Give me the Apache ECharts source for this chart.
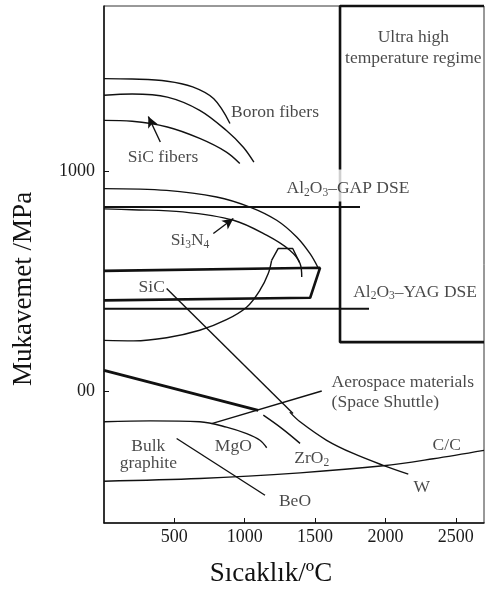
<!DOCTYPE html>
<html>
<head>
<meta charset="utf-8">
<script src="https://cdn.jsdelivr.net/npm/echarts@6/dist/echarts.min.js"></script>
<style>
  html, body { margin: 0; padding: 0; background: #fff; }
  #chart { width: 485px; height: 592px; }
</style>
</head>
<body>
<div id="chart"></div>
<script>
// axis ranges and ticks
var xMin = 0, xMax = 2700;
var yMin = 200, yMax = 1375;
var xTicks = [500, 1000, 1500, 2000, 2500];
var yTicks = [500, 1000];
var yTickText = { 500: '00', 1000: '1000' };

// curves [temperature, strength]
var boronOuter = [[0, 1210], [200, 1209], [450, 1204], [630, 1191], [780, 1164], [895, 1108]];
var boronInner = [[0, 1172], [200, 1175], [450, 1168], [680, 1138], [870, 1092], [990, 1054], [1065, 1020]];
var sicFiber = [[0, 1115], [200, 1113], [450, 1100], [680, 1074], [870, 1043], [965, 1017]];
var sicFiberArrow = [[400, 1066], [315, 1124]];
var si3n4Outer = [[0, 960], [445, 956], [800, 941], [1037, 918], [1227, 888], [1369, 850], [1464, 812], [1523, 779]];
var si3n4Inner = [[0, 914], [200, 912], [560, 907], [920, 888], [1155, 854], [1320, 820], [1393, 790], [1405, 759]];
var si3n4Arrow = [[777, 858], [919, 892]];
var sicBand = [[0, 773], [1535, 780], [1465, 712], [0, 706]];
var sicLoop = [[0, 615], [210, 614], [445, 621], [680, 638], [870, 662], [1015, 691], [1108, 729], [1167, 767], [1191, 797]];
var sicHat = [[1191, 797], [1238, 824], [1341, 824], [1388, 793]];
var gapLine = [[0, 918], [1819, 918]];
var yagLine = [[0, 687], [1883, 687]];
var ultraBox = [[2700, 1375], [1677, 1375], [1677, 611], [2700, 611]];
var sicPointer = [[445, 733], [1343, 449]];
var wCurve = [[1320, 452], [1393, 430], [1582, 388], [1771, 358], [1984, 331], [2162, 311]];
var aeroThick = [[0, 547], [1096, 456]];
var aeroPointer = [[765, 426], [1547, 500]];
var zro2 = [[1132, 445], [1263, 415], [1393, 381]];
var mgo = [[0, 430], [330, 432], [680, 430], [870, 418], [1014, 403], [1108, 388], [1156, 371]];
var beo = [[516, 392], [1144, 263]];
var cc = [[0, 295], [680, 301], [1393, 314], [1984, 330], [2340, 346], [2700, 365]];

// labels: text, x, y, align
var labels = [
  ['Boron fibers', 1215, 1134, 'center'],
  ['SiC fibers', 419, 1031, 'center'],
  ['Ultra high\ntemperature regime', 2198, 1280, 'center'],
  ['Si{s|3}N{s|4}', 611, 842, 'center'],
  ['SiC', 339, 736, 'center'],
  ['Al{s|2}O{s|3}–YAG DSE', 2210, 725, 'center'],
  ['Aerospace materials', 1617, 519, 'left'],
  ['(Space Shuttle)', 1617, 475, 'left'],
  ['MgO', 919, 373, 'center'],
  ['ZrO{s|2}', 1476, 346, 'center'],
  ['Bulk', 315, 374, 'center'],
  ['graphite', 315, 336, 'center'],
  ['BeO', 1357, 248, 'center'],
  ['C/C', 2435, 377, 'center'],
  ['W', 2257, 282, 'center']
];
var gapLabel = ['Al{s|2}O{s|3}–GAP DSE', 1733, 967];

var ink = '#111';
var textColor = '#1a1a1a';
var serif = '"Liberation Serif", "DejaVu Serif", serif';

function curve(data, width, smooth) {
  return {
    type: 'line', data: data, showSymbol: false, symbol: 'none',
    smooth: smooth ? 0.35 : false, clip: false, silent: true,
    lineStyle: { color: ink, width: width }
  };
}

function arrow(pts) {
  return {
    symbol: ['none', 'arrow'], symbolSize: [8, 11], silent: true,
    label: { show: false },
    lineStyle: { color: ink, width: 1.4, type: 'solid' },
    data: [[{ coord: pts[0] }, { coord: pts[1] }]]
  };
}

var labelStyle = {
  show: true, position: 'inside', color: textColor,
  fontFamily: serif, fontSize: 17.5, lineHeight: 20,
  rich: { s: { fontFamily: serif, fontSize: 11.5, lineHeight: 11, verticalAlign: 'bottom', color: textColor } }
};

var series = [
  curve(boronOuter, 1.4, true),
  curve(boronInner, 1.4, true),
  Object.assign(curve(sicFiber, 1.4, true), { markLine: arrow(sicFiberArrow) }),
  curve(si3n4Outer, 1.4, true),
  Object.assign(curve(si3n4Inner, 1.4, true), { markLine: arrow(si3n4Arrow) }),
  curve(sicBand, 2.6, false),
  curve(sicLoop, 1.4, true),
  curve(sicHat, 1.4, false),
  curve(gapLine, 2, false),
  curve(yagLine, 2, false),
  curve(ultraBox, 2.6, false),
  curve(sicPointer, 1.4, false),
  curve(wCurve, 1.4, true),
  curve(aeroThick, 2.8, false),
  curve(aeroPointer, 1.4, false),
  curve(zro2, 1.4, true),
  curve(mgo, 1.4, true),
  curve(beo, 1.4, false),
  curve(cc, 1.4, true)
];

labels.forEach(function (l) {
  series.push({
    type: 'scatter', symbolSize: 0, silent: true, z: 5,
    data: [[l[1], l[2]]],
    label: Object.assign({}, labelStyle, { formatter: l[0], align: l[3], lineHeight: l[0].indexOf('\n') >= 0 ? 21 : 20 })
  });
});
series.push({
  type: 'scatter', symbolSize: 0, silent: true, z: 6,
  data: [[gapLabel[1], gapLabel[2]]],
  label: Object.assign({}, labelStyle, {
    formatter: gapLabel[0], align: 'center',
    backgroundColor: '#fff', padding: [9, 3, 3, 3]
  })
});

var chart = echarts.init(document.getElementById('chart'));
chart.setOption({
  animation: false,
  backgroundColor: '#fff',
  grid: { left: 104, right: 1, top: 6, bottom: 69, show: true, borderColor: '#333', borderWidth: 1 },
  xAxis: {
    type: 'value', min: xMin, max: xMax,
    axisLine: { show: true, lineStyle: { color: ink, width: 1.5 } },
    axisTick: { show: true, inside: true, length: 5, customValues: xTicks, lineStyle: { color: ink } },
    axisLabel: {
      customValues: xTicks, color: textColor, fontFamily: serif, fontSize: 18, margin: 5,
      formatter: function (v) { return String(v); }
    },
    splitLine: { show: false }
  },
  yAxis: {
    type: 'value', min: yMin, max: yMax,
    axisLine: { show: true, lineStyle: { color: ink, width: 1.5 } },
    axisTick: { show: true, inside: true, length: 5, customValues: yTicks, lineStyle: { color: ink } },
    axisLabel: {
      customValues: yTicks, color: textColor, fontFamily: serif, fontSize: 18, margin: 9,
      formatter: function (v) { return yTickText[v] || ''; }
    },
    splitLine: { show: false }
  },
  graphic: [
    {
      type: 'text', x: 271, y: 574, silent: true,
      style: { text: 'Sıcaklık/ºC', font: '27px ' + serif, fill: '#111', textAlign: 'center', textVerticalAlign: 'middle' }
    },
    {
      type: 'text', x: 24, y: 289, rotation: Math.PI / 2, silent: true,
      style: { text: 'Mukavemet /MPa', font: '27px ' + serif, fill: '#111', textAlign: 'center', textVerticalAlign: 'middle' }
    }
  ],
  series: series
});
</script>
</body>
</html>
